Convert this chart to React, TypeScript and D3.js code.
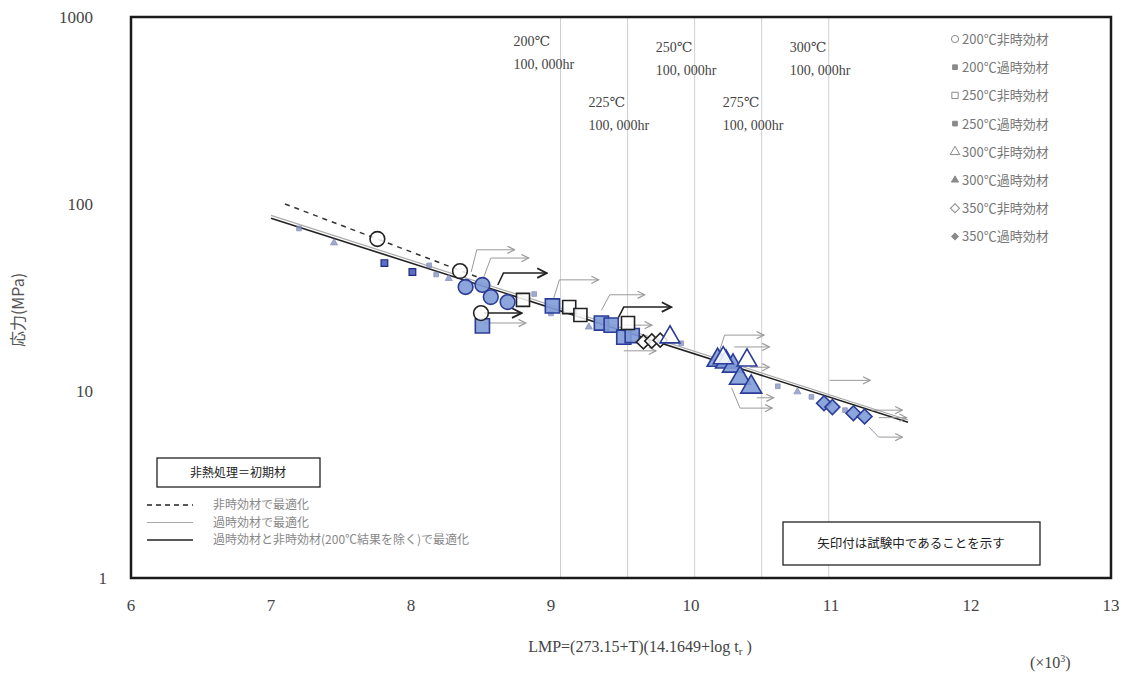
import React from "react";
import * as d3 from "d3";

// ---- axis ticks ----
const xTicks = [6, 7, 8, 9, 10, 11, 12, 13];
const yTicks = [1, 10, 100, 1000];

// ---- reference lines (LMP x10^3, stress MPa) ----
const dashedFit = [[7.1, 100], [8.5, 40]];
const grayFit = [[7.0, 87], [11.55, 7.0]];
const blackFit = [[7.0, 84], [11.55, 6.8]];

// ---- 100,000 hr vertical lines ----
const hourLines = [
  { lmp: 9.068, label: "200℃", row: 0 },
  { lmp: 9.547, label: "225℃", row: 2 },
  { lmp: 10.026, label: "250℃", row: 1 },
  { lmp: 10.505, label: "275℃", row: 2 },
  { lmp: 10.984, label: "300℃", row: 1 },
];

// ---- data ----
const openCircle200 = [[7.76, 65], [8.35, 43.8], [8.50, 26.1]];
const filledCircle200 = [[8.39, 36.0], [8.51, 36.9], [8.57, 31.8], [8.69, 29.9]];
const smallSquare200 = [[7.81, 48.3], [8.01, 43.3]];
const openSquare250 = [[8.80, 30.7], [9.13, 28.1], [9.21, 25.5], [9.55, 23.1]];
const filledSquare250 = [[8.51, 22.3], [9.01, 28.5], [9.36, 23.1], [9.43, 22.5], [9.52, 19.4], [9.58, 19.8]];
const openTriangle300 = [[9.85, 19.4], [10.23, 15.0], [10.40, 14.6]];
const filledTriangle300 = [[10.19, 14.6], [10.25, 14.3], [10.30, 13.6], [10.35, 11.7], [10.43, 10.5]];
const openDiamond350 = [[9.66, 18.3], [9.72, 18.5], [9.78, 18.7]];
const filledDiamond350 = [[10.95, 8.6], [11.01, 8.2], [11.16, 7.6], [11.24, 7.3]];
const smallGray = [[7.2, 74], [7.45, 62], [8.13, 47], [8.18, 42], [8.27, 40], [8.88, 33], [9.0, 26],
  [9.27, 22], [9.93, 18.0], [10.62, 10.6], [10.76, 9.9], [10.86, 9.3], [11.1, 7.9]];

// runout arrows: [startLMP, startMPa, kneeLMP, kneeMPa, endLMP, black?]
const arrows = [
  [8.43, 43.3, 8.47, 56.9, 8.74, 0],
  [8.52, 40.7, 8.57, 51.4, 8.84, 0],
  [8.62, 36.9, 8.66, 42.7, 8.97, 1],
  [8.52, 26.1, 8.52, 26.1, 8.79, 1],
  [8.52, 23.1, 8.52, 23.1, 8.82, 0],
  [9.02, 31.4, 9.06, 39.3, 9.34, 0],
  [9.36, 27.0, 9.42, 32.7, 9.67, 0],
  [9.48, 24.6, 9.52, 28.1, 9.86, 1],
  [9.52, 22.5, 9.52, 22.5, 9.72, 0],
  [9.52, 16.4, 9.52, 16.4, 9.75, 0],
  [10.20, 16.1, 10.24, 19.9, 10.52, 0],
  [10.31, 17.2, 10.31, 17.2, 10.56, 0],
  [10.42, 13.4, 10.42, 13.4, 10.56, 0],
  [10.29, 10.4, 10.35, 8.1, 10.58, 0],
  [10.47, 9.2, 10.47, 9.2, 10.59, 0],
  [10.99, 11.4, 10.99, 11.4, 11.28, 0],
  [11.29, 7.9, 11.29, 7.9, 11.51, 0],
  [11.34, 7.2, 11.34, 7.2, 11.54, 0],
  [11.27, 6.43, 11.34, 5.67, 11.51, 0],
];

const legendItems = [
  { shape: "circle", filled: false, label: "200℃非時効材" },
  { shape: "square", filled: true, label: "200℃過時効材" },
  { shape: "square", filled: false, label: "250℃非時効材" },
  { shape: "square", filled: true, label: "250℃過時効材" },
  { shape: "triangle", filled: false, label: "300℃非時効材" },
  { shape: "triangle", filled: true, label: "300℃過時効材" },
  { shape: "diamond", filled: false, label: "350℃非時効材" },
  { shape: "diamond", filled: true, label: "350℃過時効材" },
];

const lineLegend = [
  { dash: "5,4", color: "#222", width: 1.5, label: "非時効材で最適化" },
  { dash: "", color: "#aaa", width: 1, label: "過時効材で最適化" },
  { dash: "", color: "#222", width: 1.5, label: "過時効材と非時効材(200℃結果を除く)で最適化" },
];

const W = 1128, H = 675;
const L = 131, R = 1111, T = 17, B = 578;
const serif = "'Liberation Serif', 'DejaVu Serif', serif";
const jp = "'Noto Sans CJK JP', sans-serif";

const BLUE_FILL = "#7f9bd6";
const BLUE_STROKE = "#2b3c98";

function symPath(shape: string, size: number) {
  const t = shape === "circle" ? d3.symbolCircle : shape === "triangle" ? d3.symbolTriangle : d3.symbolSquare;
  return d3.symbol().type(t).size(size)() as string;
}

export default function App() {
  const x = d3.scaleLinear().domain([6, 13]).range([L, R]);
  const y = d3.scaleLog().domain([1, 1000]).range([B, T]);
  const line = d3.line<number[]>().x((d) => x(d[0])).y((d) => y(d[1]));

  const marker = (pts: number[][], shape: string, filled: boolean, size: number, key: string, stroke?: string) =>
    pts.map((p, i) => (
      <path
        key={key + i}
        d={symPath(shape, size)}
        transform={`translate(${x(p[0])},${y(p[1])})${shape === "diamond" ? " rotate(45)" : ""}`}
        fill={filled ? BLUE_FILL : "#fff"}
        fillOpacity={filled ? 0.9 : 0.85}
        stroke={stroke || (filled ? BLUE_STROKE : "#222")}
        strokeWidth={1.6}
      />
    ));

  return (
    <svg width={W} height={H} style={{ position: "absolute", left: 0, top: 0, background: "#fff" }}>
      <defs>
        <marker id="ahg" viewBox="0 0 10 10" refX="9" refY="5" markerWidth="9" markerHeight="9" orient="auto" markerUnits="userSpaceOnUse">
          <path d="M1,1 L9,5 L1,9" fill="none" stroke="#999" strokeWidth="1.3" />
        </marker>
        <marker id="ahb" viewBox="0 0 10 10" refX="9" refY="5" markerWidth="12" markerHeight="12" orient="auto" markerUnits="userSpaceOnUse">
          <path d="M1,1 L9,5 L1,9" fill="none" stroke="#222" strokeWidth="1.5" />
        </marker>
      </defs>
      <rect x={0} y={0} width={W} height={H} fill="#fff" />

      {/* vertical 100,000hr lines */}
      {hourLines.map((h, i) => (
        <line key={"hl" + i} x1={x(h.lmp)} x2={x(h.lmp)} y1={T} y2={B} stroke="#cfcfcf" strokeWidth={1} />
      ))}
      {hourLines.map((h, i) => {
        const tx = h.row === 0 ? x(h.lmp) - 47 : h.row === 1 ? x(h.lmp) - 39 : x(h.lmp) - 39;
        const ty = h.row === 0 ? 46 : h.row === 1 ? 52 : 107;
        return (
          <g key={"hlt" + i} fontFamily={serif} fontSize={14} fill="#444">
            <text x={tx} y={ty}>{h.label}</text>
            <text x={tx} y={ty + 23}>100, 000hr</text>
          </g>
        );
      })}

      {/* fit lines */}
      <path d={line(grayFit) as string} fill="none" stroke="#aaa" strokeWidth={1.2} />
      <path d={line(blackFit) as string} fill="none" stroke="#222" strokeWidth={1.6} />
      <path d={line(dashedFit) as string} fill="none" stroke="#333" strokeWidth={1.5} strokeDasharray="5,5" />

      {/* runout arrows */}
      {arrows.map((a, i) => {
        const pts = a[0] === a[2] && a[1] === a[3]
          ? [[a[0], a[1]], [a[4], a[3]]]
          : [[a[0], a[1]], [a[2], a[3]], [a[4], a[3]]];
        const black = a[5] === 1;
        return (
          <path
            key={"ar" + i}
            d={line(pts) as string}
            fill="none"
            stroke={black ? "#222" : "#9a9a9a"}
            strokeWidth={black ? 1.5 : 1}
            markerEnd={black ? "url(#ahb)" : "url(#ahg)"}
          />
        );
      })}

      {/* small markers */}
      {smallGray.map((p, i) => (
        <path key={"sg" + i} d={symPath(i % 3 === 0 ? "square" : i % 3 === 1 ? "triangle" : "diamond", 22)}
          transform={`translate(${x(p[0])},${y(p[1])})`} fill="#8a94c4" stroke="#6d78b0" strokeWidth={0.8} opacity={0.8} />
      ))}
      {smallSquare200.map((p, i) => (
        <path key={"ss" + i} d={symPath("square", 45)} transform={`translate(${x(p[0])},${y(p[1])})`}
          fill="#5d6fc0" stroke="#1f2a80" strokeWidth={1.2} />
      ))}

      {/* main markers */}
      {marker(filledCircle200, "circle", true, 170, "fc")}
      {marker(filledSquare250, "square", true, 200, "fs")}
      {marker(openSquare250, "square", false, 170, "os")}
      {marker(openCircle200, "circle", false, 170, "oc")}
      {marker(openDiamond350, "diamond", false, 100, "od")}
      {marker(filledTriangle300, "triangle", true, 190, "ft")}
      {marker(openTriangle300, "triangle", false, 170, "ot", "#2b3c98")}
      {marker(filledDiamond350, "diamond", true, 110, "fd")}

      {/* frame */}
      <rect x={L} y={T} width={R - L} height={B - T} fill="none" stroke="#1a1a1a" strokeWidth={2.5} />

      {/* axis labels */}
      {xTicks.map((t) => (
        <text key={"xt" + t} x={x(t)} y={611} textAnchor="middle" fontFamily={serif} fontSize={17} fill="#444">{t}</text>
      ))}
      {yTicks.map((t) => (
        <text key={"yt" + t} x={t === 1 ? 107 : 93} y={y(t) + 6} textAnchor="end" fontFamily={serif} fontSize={17} fill="#444">{t}</text>
      ))}
      <text x={640} y={652} textAnchor="middle" fontFamily={serif} fontSize={16} fill="#444">
        LMP=(273.15+T)(14.1649+log t<tspan fontSize={11} dy={3}>r</tspan><tspan dy={-3}> )</tspan>
      </text>
      <text x={1030} y={668} fontFamily={serif} fontSize={16} fill="#444">(×10<tspan fontSize={10} dy={-6}>3</tspan><tspan dy={6}>)</tspan></text>
      <text transform="translate(24,310) rotate(-90)" textAnchor="middle" fontFamily={jp} fontSize={16} fill="#555">応力(MPa)</text>

      {/* top-right legend */}
      {legendItems.map((it, i) => {
        const ly = 44 + i * 28.2;
        return (
          <g key={"lg" + i}>
            <path d={symPath(it.shape === "diamond" ? "square" : it.shape, it.filled ? 22 : 40)}
              transform={`translate(${955},${ly - 5})${it.shape === "diamond" ? " rotate(45)" : ""}`}
              fill={it.filled ? "#8a8a8a" : "#fff"} stroke="#8a8a8a" strokeWidth={1} />
            <text x={962} y={ly} fontFamily={jp} fontSize={13} fill="#777">{it.label}</text>
          </g>
        );
      })}

      {/* bottom-left legend */}
      <rect x={157} y={458} width={163} height={29} fill="#fff" stroke="#222" strokeWidth={1.3} />
      <text x={238} y={477} textAnchor="middle" fontFamily={jp} fontSize={12} fill="#222">非熱処理＝初期材</text>
      {lineLegend.map((l, i) => {
        const ly = 505 + i * 17.5;
        return (
          <g key={"ll" + i}>
            <line x1={147} x2={193} y1={ly} y2={ly} stroke={l.color} strokeWidth={l.width} strokeDasharray={l.dash} />
            <text x={213} y={ly + 4} fontFamily={jp} fontSize={12} fill="#888">{l.label}</text>
          </g>
        );
      })}

      {/* bottom-right note */}
      <rect x={783} y={522} width={257} height={43} fill="#fff" stroke="#222" strokeWidth={1.3} />
      <text x={911} y={548} textAnchor="middle" fontFamily={jp} fontSize={12.5} fill="#222">矢印付は試験中であることを示す</text>
    </svg>
  );
}
